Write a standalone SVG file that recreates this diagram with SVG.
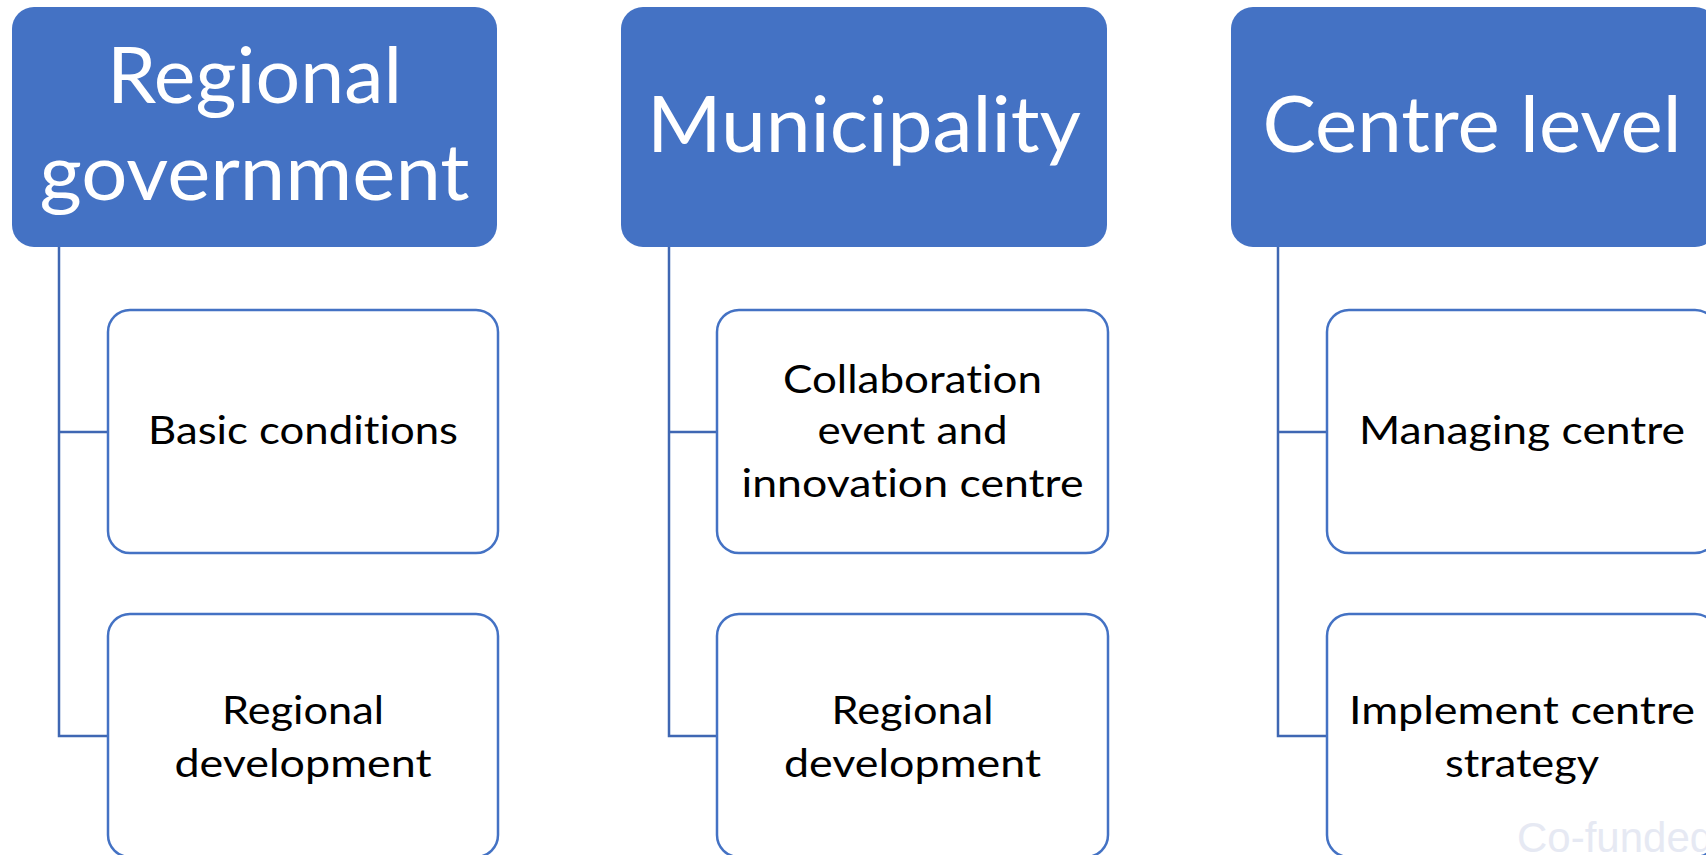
<svg xmlns="http://www.w3.org/2000/svg" width="1706" height="855" viewBox="0 0 1706 855">
<style>
.hdr{fill:#4472C4;}
.child{fill:#FFFFFF;stroke:#4472C4;stroke-width:2.5;}
.conn{fill:none;stroke:#3F67B3;stroke-width:2.5;}
.ht{font-family:Lato,"Open Sans","Liberation Sans",sans-serif;fill:#FFFFFF;font-size:77px;text-anchor:middle;font-variant-ligatures:none;}
.ct{font-family:Lato,"Open Sans","Liberation Sans",sans-serif;fill:#000000;font-size:39px;text-anchor:middle;font-variant-ligatures:none;}
.wm{font-family:"Liberation Sans",Arial,sans-serif;fill:#E6E9F3;font-size:42px;}
</style>
<rect width="1706" height="855" fill="#FFFFFF"/>
<g id="connectors">
<path class="conn" d="M59 247 V736 H108 M59 432 H108"/>
<path class="conn" d="M669 247 V736 H717 M669 432 H717"/>
<path class="conn" d="M1278 247 V736 H1327 M1278 432 H1327"/>
</g>
<g id="regional-government">
<rect class="hdr" x="12" y="7" width="485" height="240" rx="22"/>
<text class="ht"><tspan x="254.5" y="103" textLength="295" lengthAdjust="spacingAndGlyphs">Regional</tspan><tspan x="254.5" y="200" textLength="430" lengthAdjust="spacingAndGlyphs">government</tspan></text>
</g>
<g id="basic-conditions">
<rect class="child" x="108" y="310" width="390" height="243" rx="22"/>
<text class="ct" x="303" y="444" textLength="310" lengthAdjust="spacingAndGlyphs">Basic conditions</text>
</g>
<g id="regional-development-1">
<rect class="child" x="108" y="614" width="390" height="243" rx="22"/>
<text class="ct"><tspan x="303" y="724" textLength="162" lengthAdjust="spacingAndGlyphs">Regional</tspan><tspan x="303" y="777" textLength="257" lengthAdjust="spacingAndGlyphs">development</tspan></text>
</g>
<g id="municipality">
<rect class="hdr" x="621" y="7" width="486" height="240" rx="22"/>
<text class="ht" x="864" y="152" textLength="434" lengthAdjust="spacingAndGlyphs">Municipality</text>
</g>
<g id="collaboration">
<rect class="child" x="717" y="310" width="391" height="243" rx="22"/>
<text class="ct"><tspan x="912.5" y="393" textLength="259" lengthAdjust="spacingAndGlyphs">Collaboration</tspan><tspan x="912.5" y="444" textLength="190" lengthAdjust="spacingAndGlyphs">event and</tspan><tspan x="912.5" y="497" textLength="342" lengthAdjust="spacingAndGlyphs">innovation centre</tspan></text>
</g>
<g id="regional-development-2">
<rect class="child" x="717" y="614" width="391" height="243" rx="22"/>
<text class="ct"><tspan x="912.5" y="724" textLength="162" lengthAdjust="spacingAndGlyphs">Regional</tspan><tspan x="912.5" y="777" textLength="257" lengthAdjust="spacingAndGlyphs">development</tspan></text>
</g>
<g id="centre-level">
<rect class="hdr" x="1231" y="7" width="486" height="240" rx="22"/>
<text class="ht" x="1472" y="152" textLength="419" lengthAdjust="spacingAndGlyphs">Centre level</text>
</g>
<g id="managing-centre">
<rect class="child" x="1327" y="310" width="390" height="243" rx="22"/>
<text class="ct" x="1522" y="444" textLength="326" lengthAdjust="spacingAndGlyphs">Managing centre</text>
</g>
<g id="implement-strategy">
<rect class="child" x="1327" y="614" width="390" height="243" rx="22"/>
<text class="ct"><tspan x="1522" y="724" textLength="346" lengthAdjust="spacingAndGlyphs">Implement centre</tspan><tspan x="1522" y="777" textLength="154" lengthAdjust="spacingAndGlyphs">strategy</tspan></text>
</g>
<text class="wm" x="1517" y="852">Co-funded</text>
</svg>
